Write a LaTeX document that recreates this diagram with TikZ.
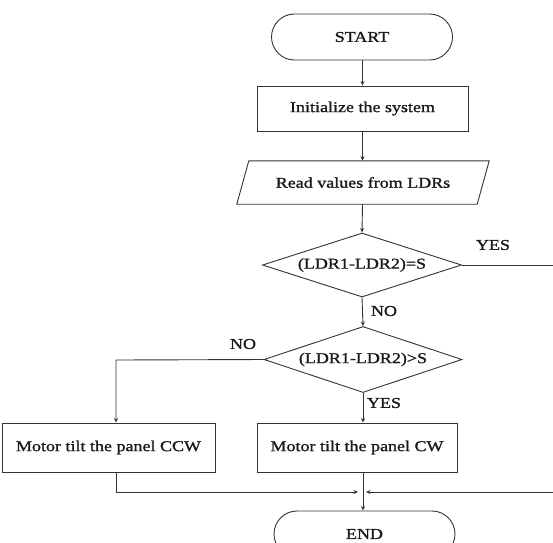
\documentclass[tikz,border=0pt]{standalone}
\usepackage{fontspec}
\setmainfont{Liberation Serif}[FakeStretch=1.2,FakeBold=1.2]
\usetikzlibrary{shapes.geometric,shapes.misc,arrows.meta}
\tikzset{
  every node/.style={font=\fontsize{15}{17}\selectfont, text=black!90},
  line/.style={draw=black!80, line width=0.9pt},
  arr/.style={line, -{Stealth[length=4.5pt,width=4pt]}},
  term/.style={rounded rectangle, line, minimum width=181pt, minimum height=46pt, inner sep=0pt},
  procbox/.style={rectangle, line, inner sep=0pt},
  decide/.style={diamond, line, inner sep=0pt, shape aspect=3},
  lbl/.style={inner sep=0pt}
}
\begin{document}
\begin{tikzpicture}[x=1pt,y=1pt]
\useasboundingbox (0,0) rectangle (553,-542);
\clip (0,0) rectangle (553,-542);
\node[term] (start) at (362,-37) {START};
\node[procbox, minimum width=211pt, minimum height=45pt] (init) at (362.5,-108.5) {Initialize the system};
\node[inner sep=0pt, minimum width=240pt, minimum height=43pt] (read) at (363,-182.5) {Read values from LDRs};
\draw[line] ([xshift=6pt]read.north west) -- ([xshift=6pt]read.north east) -- ([xshift=-6pt]read.south east) -- ([xshift=-6pt]read.south west) -- cycle;
\node[decide, minimum width=199pt, minimum height=64pt] (d1) at (362,-265) {(LDR1-LDR2)=S};
\node[decide, minimum width=198pt, minimum height=66pt] (d2) at (363,-359.5) {(LDR1-LDR2)>S};
\node[procbox, minimum width=213pt, minimum height=49pt] (ccw) at (108.5,-447.5) {Motor tilt the panel CCW};
\node[procbox, minimum width=200pt, minimum height=49pt] (cw) at (357,-447.5) {Motor tilt the panel CW};
\node[term] (end) at (364.5,-534) {END};

\coordinate (j) at (362,-492);
\coordinate (jl) at (358,-492);
\coordinate (jr) at (366,-492);
\coordinate (lc) at (116,-360);
\coordinate (rc) at (570,-265);

\draw[arr] (start.south -| init.north) -- (init.north);
\draw[arr] (init.south) -- (init.south |- read.north);
\draw[arr] (init.south |- read.south) -- (d1.north);
\draw[arr] (d1.south) -- (d2.north);
\draw[arr] (d2.west) -- (lc) -- (lc |- ccw.north);
\draw[arr] (d2.south) -- (d2.south |- cw.north);
\draw[arr] (lc |- ccw.south) -- (lc |- j) -- (jl);
\draw[arr] (d1.east) -- (rc) -- (rc |- j) -- (jr);
\draw[arr] (d2.south |- cw.south) -- (d2.south |- end.north);

\node[lbl] (yes1) at (493,-245) {YES};
\node[lbl] (no1) at (384,-311) {NO};
\node[lbl] (no2) at (243,-344) {NO};
\node[lbl] (yes2) at (384,-403) {YES};
\end{tikzpicture}
\end{document}
